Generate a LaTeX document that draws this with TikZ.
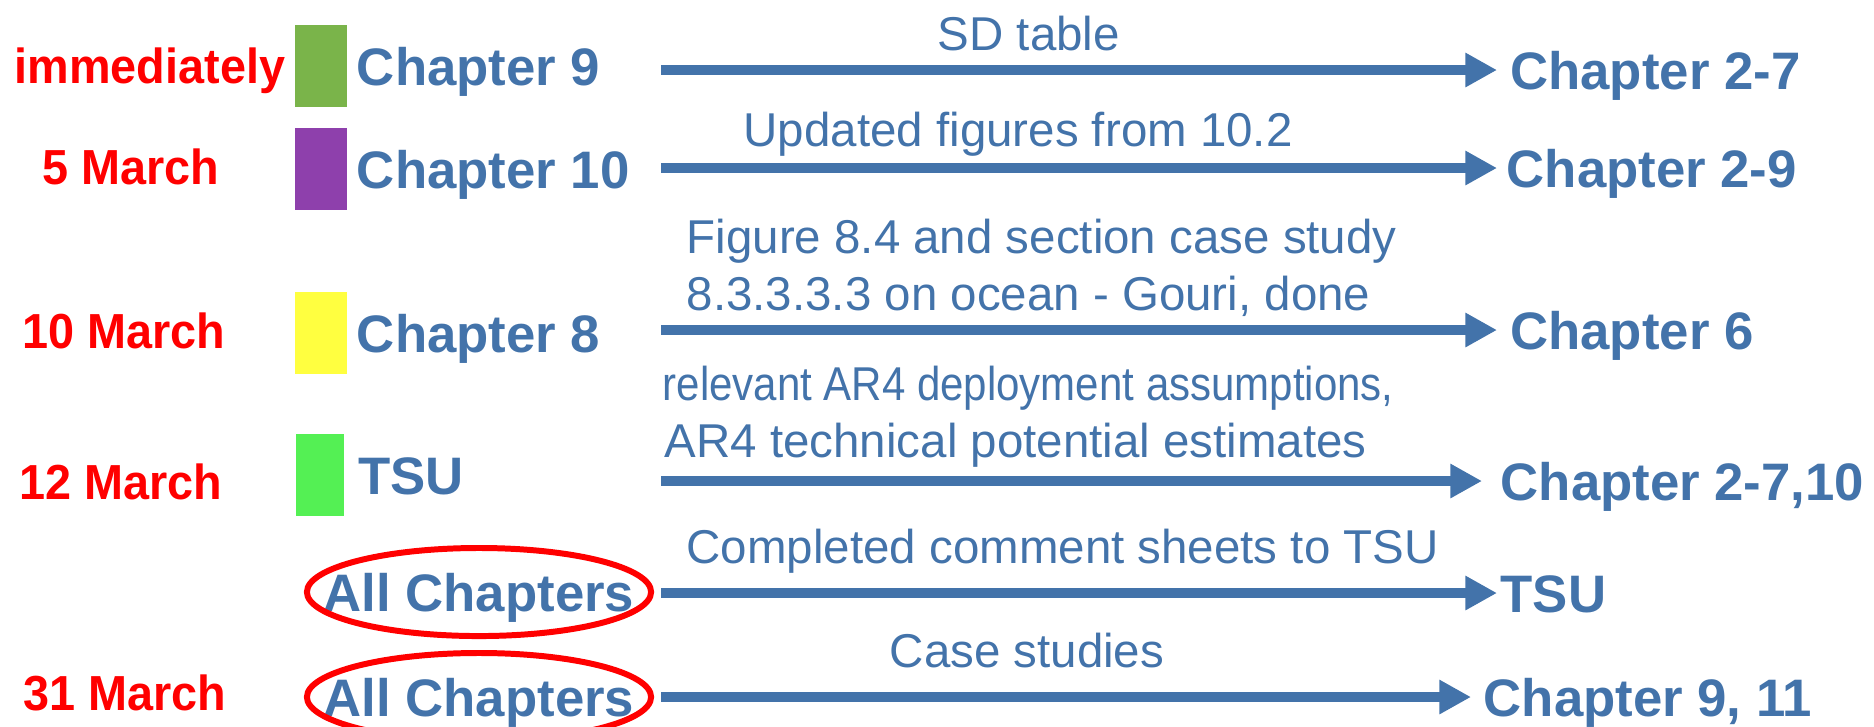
\documentclass[tikz,border=0pt]{standalone}
\usepackage{fontspec}
\setmainfont{Liberation Sans}
\newfontfamily\datefamily[FakeStretch=0.95]{Liberation Sans}
\newfontfamily\squeezefamily[FakeStretch=0.885]{Liberation Sans}
\usetikzlibrary{arrows.meta,positioning,shapes.geometric}

\definecolor{chapblue}{RGB}{67,115,170}
\definecolor{datered}{RGB}{255,0,0}
\definecolor{boxolive}{RGB}{122,180,74}
\definecolor{boxpurple}{RGB}{142,64,172}
\definecolor{boxyellow}{RGB}{255,255,64}
\definecolor{boxlime}{RGB}{84,240,84}

\begin{document}
\begin{tikzpicture}[x=0.01cm, y=-0.01cm]

\tikzstyle{datetxt} = [text=datered, font=\fontsize{14}{16}\datefamily\bfseries, inner sep=0pt, text height=10pt, text depth=0pt]
\tikzstyle{chaptxt} = [text=chapblue, font=\fontsize{15}{18}\selectfont\bfseries, inner sep=0pt, text height=10.8pt, text depth=0pt]
\tikzstyle{notetxt} = [text=chapblue, font=\fontsize{13.5}{16}\selectfont, inner sep=0pt, anchor=base west]
\tikzstyle{swatch} = [rectangle, inner sep=0pt, minimum width=0.51cm, minimum height=0.82cm]
\tikzstyle{ringline} = [draw=datered, line width=1.7pt]
\tikzstyle{flow} = [draw=chapblue, line width=3.1pt, -{Triangle[length=9pt, width=9.2pt]}]

\useasboundingbox (0,0) rectangle (1874,726);

% row 1
\node [datetxt] (r1_date) at (150,66) {immediately};
\node [swatch, fill=boxolive] (r1_box) at (321,66) {};
\node [chaptxt, right = 0.09cm of r1_box] (r1_src) {Chapter 9};
\coordinate (r1_s) at (661,70);
\coordinate (r1_e) at (1497,70);
\node [chaptxt, right = 0.125cm of r1_e] (r1_dst) {Chapter 2-7};
\node [notetxt] (r1_txt) at (937,50) {SD table};

% row 2
\node [datetxt] (r2_date) at (131,167) {5 March};
\node [swatch, fill=boxpurple] (r2_box) at (321,169) {};
\node [chaptxt, right = 0.09cm of r2_box] (r2_src) {Chapter 10};
\coordinate (r2_s) at (661,168);
\coordinate (r2_e) at (1497,168);
\node [chaptxt, right = 0.09cm of r2_e] (r2_dst) {Chapter 2-9};
\node [notetxt] (r2_txt) at (743,146) {Updated figures from 10.2};

% row 3
\node [datetxt] (r3_date) at (124,331) {10 March};
\node [swatch, fill=boxyellow] (r3_box) at (321,333) {};
\node [chaptxt, right = 0.09cm of r3_box] (r3_src) {Chapter 8};
\coordinate (r3_s) at (661,330);
\coordinate (r3_e) at (1497,330);
\node [chaptxt, right = 0.125cm of r3_e] (r3_dst) {Chapter 6};
\node [notetxt] (r3_txt1) at (686,253) {Figure 8.4 and section case study};
\node [notetxt] (r3_txt2) at (686,310) {8.3.3.3.3 on ocean - Gouri, done};

% row 4
\node [datetxt] (r4_date) at (121,482) {12 March};
\node [swatch, fill=boxlime, minimum width=0.48cm] (r4_box) at (320,475) {};
\node [chaptxt, right = 0.13cm of r4_box] (r4_src) {TSU};
\coordinate (r4_s) at (661,481);
\coordinate (r4_e) at (1482,481);
\node [chaptxt, right = 0.18cm of r4_e] (r4_dst) {Chapter 2-7,10};
\node [notetxt, font=\fontsize{13.5}{16}\squeezefamily] (r4_txt1) at (662,400) {relevant AR4 deployment assumptions,};
\node [notetxt] (r4_txt2) at (664,457) {AR4 technical potential estimates};

% row 5
\node [chaptxt] (r5_src) at (479,592) {All Chapters};
\draw [ringline] (r5_src) ellipse [x radius=1.72cm, y radius=0.44cm];
\coordinate (r5_s) at (661,593);
\coordinate (r5_e) at (1497,593);
\node [chaptxt, right = 0.03cm of r5_e] (r5_dst) {TSU};
\node [notetxt] (r5_txt) at (686,563) {Completed comment sheets to TSU};

% row 6
\node [datetxt] (r6_date) at (125,693) {31 March};
\node [chaptxt] (r6_src) at (479,697) {All Chapters};
\draw [ringline] (r6_src) ellipse [x radius=1.72cm, y radius=0.44cm];
\coordinate (r6_s) at (661,697);
\coordinate (r6_e) at (1471,697);
\node [chaptxt, right = 0.12cm of r6_e] (r6_dst) {Chapter 9, 11};
\node [notetxt] (r6_txt) at (889,667) {Case studies};

\draw[flow] (r1_s) -- (r1_e);
\draw[flow] (r2_s) -- (r2_e);
\draw[flow] (r3_s) -- (r3_e);
\draw[flow] (r4_s) -- (r4_e);
\draw[flow] (r5_s) -- (r5_e);
\draw[flow] (r6_s) -- (r6_e);

\end{tikzpicture}
\end{document}
